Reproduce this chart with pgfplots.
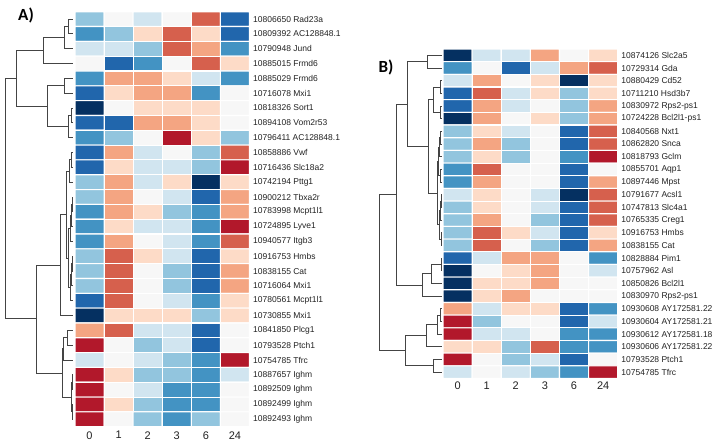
\documentclass[border=0pt]{standalone}
\usepackage{fontspec}
\setmainfont{Liberation Sans}
\newfontfamily\carlito{Carlito}
\usepackage{pgfplots}
\pgfplotsset{compat=1.18}
\definecolor{dendro}{HTML}{444444}
\definecolor{lbl}{HTML}{222222}

% colour index: 0 navy ... 5 white ... 9 dark red (RdBu)
\pgfplotsset{
  heat/.style={
    scale only axis, anchor=north west,
    axis line style={draw=none}, major tick length=0pt,
    xmin=-0.5, xmax=5.5, y dir=reverse,
    xtick={0,...,5}, xticklabels={0,1,2,3,6,24},
    yticklabel pos=right,
    /pgf/number format/assume math mode=true,
    xticklabel style={font=\fontsize{11bp}{13bp}\selectfont, text=lbl, inner sep=0pt, anchor=north},
    yticklabel style={font=\fontsize{8.5bp}{10bp}\selectfont, text=lbl, inner sep=0pt, anchor=west, xshift=3.5bp},
    colormap={rdbu}{rgb255=(5,48,97) rgb255=(33,102,172) rgb255=(67,147,195)
      rgb255=(146,197,222) rgb255=(209,229,240) rgb255=(247,247,247)
      rgb255=(253,219,199) rgb255=(244,165,130) rgb255=(214,96,77) rgb255=(178,24,43)},
    colormap access=direct,
    clip=false,
  },
  tree/.style={
    scale only axis, anchor=north west, hide axis, y dir=reverse, clip=false,
    every axis plot post/.append style={draw=dendro, solid, line width=0.9bp, mark=none},
  },
}

\begin{document}
\begin{tikzpicture}
\path[use as bounding box] (0,0) rectangle (716bp,441bp);

% ---------------- panel A ----------------
\begin{axis}[tree, at={(0bp,429.3bp)}, width=75bp, height=415bp,
  xmin=0, xmax=75, ymin=0.5, ymax=28.5]
\addplot coordinates {(72.7,1) (68.5,1) (68.5,2) (72.7,2)};
\addplot coordinates {(68.5,1.5) (64,1.5) (64,3) (72.7,3)};
\addplot coordinates {(64,2.25) (43.5,2.25) (43.5,4) (72.7,4)};
\addplot coordinates {(72.7,5) (64.5,5) (64.5,6) (72.7,6)};
\addplot coordinates {(72.7,7) (71.5,7) (71.5,8) (72.7,8)};
\addplot coordinates {(71.5,7.5) (68.5,7.5) (68.5,9) (72.7,9)};
\addplot coordinates {(64.5,5.5) (47.5,5.5) (47.5,8.25) (68.5,8.25)};
\addplot coordinates {(43.5,3.125) (16,3.125) (16,6.875) (47.5,6.875)};
\addplot coordinates {(72.7,10) (71.5,10) (71.5,11) (72.7,11)};
\addplot coordinates {(71.5,10.5) (69,10.5) (69,12) (72.7,12)};
\addplot coordinates {(72.7,13) (72,13) (72,14) (72.7,14)};
\addplot coordinates {(72,13.5) (71.5,13.5) (71.5,15) (72.7,15)};
\addplot coordinates {(71.5,14.25) (70.5,14.25) (70.5,16) (72.7,16)};
\addplot coordinates {(72.7,17) (72.2,17) (72.2,18) (72.7,18)};
\addplot coordinates {(72.2,17.5) (71.5,17.5) (71.5,19) (72.7,19)};
\addplot coordinates {(71.5,18.25) (70,18.25) (70,20) (72.7,20)};
\addplot coordinates {(70.5,15.125) (68.5,15.125) (68.5,19.125) (70,19.125)};
\addplot coordinates {(69,11.25) (66.5,11.25) (66.5,17.125) (68.5,17.125)};
\addplot coordinates {(66.5,14.19) (60,14.19) (60,21) (72.7,21)};
\addplot coordinates {(72.7,22) (67,22) (67,23) (72.7,23)};
\addplot coordinates {(67,22.5) (63.5,22.5) (63.5,24) (72.7,24)};
\addplot coordinates {(72.7,25) (72,25) (72,26) (72.7,26)};
\addplot coordinates {(72.7,27) (72,27) (72,28) (72.7,28)};
\addplot coordinates {(72,25.5) (71,25.5) (71,27.5) (72,27.5)};
\addplot coordinates {(63.5,23.25) (62,23.25) (62,26.5) (71,26.5)};
\addplot coordinates {(60,17.59) (36,17.59) (36,24.875) (62,24.875)};
\addplot coordinates {(16,5.0) (5,5.0) (5,21.23) (36,21.23)};
\end{axis}

\begin{axis}[heat, at={(75bp,429.3bp)}, width=174.5bp, height=415bp,
  ymin=0.5, ymax=28.5, ytick={1,...,28},
  xticklabel style={yshift=-4.5bp},
  yticklabels={10806650 Rad23a, 10809392 AC128848.1, 10790948 Jund, 10885015 Frmd6,
    10885029 Frmd6, 10716078 Mxi1, 10818326 Sort1, 10894108 Vom2r53,
    10796411 AC128848.1, 10858886 Vwf, 10716436 Slc18a2, 10742194 Pttg1,
    10900212 Tbxa2r, 10783998 Mcpt1l1, 10724895 Lyve1, 10940577 Itgb3,
    10916753 Hmbs, 10838155 Cat, 10716064 Mxi1, 10780561 Mcpt1l1,
    10730855 Mxi1, 10841850 Plcg1, 10793528 Ptch1, 10754785 Tfrc,
    10887657 Ighm, 10892509 Ighm, 10892499 Ighm, 10892493 Ighm}]
\addplot[matrix plot, mesh/cols=6, point meta=explicit, draw=white, line width=1.1bp]
  table[row sep=\\, meta=c] {
x y c\\
0 1 3\\ 1 1 5\\ 2 1 4\\ 3 1 5\\ 4 1 8\\ 5 1 1\\
0 2 2\\ 1 2 3\\ 2 2 6\\ 3 2 8\\ 4 2 6\\ 5 2 1\\
0 3 4\\ 1 3 4\\ 2 3 3\\ 3 3 8\\ 4 3 7\\ 5 3 2\\
0 4 5\\ 1 4 1\\ 2 4 2\\ 3 4 5\\ 4 4 8\\ 5 4 6\\
0 5 2\\ 1 5 7\\ 2 5 7\\ 3 5 6\\ 4 5 4\\ 5 5 2\\
0 6 1\\ 1 6 6\\ 2 6 7\\ 3 6 7\\ 4 6 2\\ 5 6 5\\
0 7 0\\ 1 7 5\\ 2 7 6\\ 3 7 6\\ 4 7 6\\ 5 7 5\\
0 8 1\\ 1 8 1\\ 2 8 7\\ 3 8 7\\ 4 8 6\\ 5 8 5\\
0 9 2\\ 1 9 3\\ 2 9 5\\ 3 9 9\\ 4 9 6\\ 5 9 3\\
0 10 1\\ 1 10 7\\ 2 10 4\\ 3 10 5\\ 4 10 3\\ 5 10 8\\
0 11 1\\ 1 11 6\\ 2 11 4\\ 3 11 4\\ 4 11 3\\ 5 11 9\\
0 12 3\\ 1 12 7\\ 2 12 4\\ 3 12 6\\ 4 12 0\\ 5 12 6\\
0 13 3\\ 1 13 7\\ 2 13 5\\ 3 13 4\\ 4 13 1\\ 5 13 7\\
0 14 2\\ 1 14 7\\ 2 14 6\\ 3 14 3\\ 4 14 2\\ 5 14 7\\
0 15 2\\ 1 15 6\\ 2 15 4\\ 3 15 4\\ 4 15 2\\ 5 15 9\\
0 16 2\\ 1 16 7\\ 2 16 5\\ 3 16 4\\ 4 16 2\\ 5 16 8\\
0 17 3\\ 1 17 8\\ 2 17 6\\ 3 17 4\\ 4 17 1\\ 5 17 6\\
0 18 3\\ 1 18 8\\ 2 18 5\\ 3 18 3\\ 4 18 1\\ 5 18 7\\
0 19 3\\ 1 19 8\\ 2 19 5\\ 3 19 3\\ 4 19 1\\ 5 19 7\\
0 20 1\\ 1 20 8\\ 2 20 5\\ 3 20 4\\ 4 20 2\\ 5 20 6\\
0 21 0\\ 1 21 6\\ 2 21 6\\ 3 21 6\\ 4 21 3\\ 5 21 6\\
0 22 7\\ 1 22 8\\ 2 22 4\\ 3 22 4\\ 4 22 1\\ 5 22 5\\
0 23 9\\ 1 23 5\\ 2 23 3\\ 3 23 4\\ 4 23 1\\ 5 23 5\\
0 24 4\\ 1 24 5\\ 2 24 4\\ 3 24 3\\ 4 24 2\\ 5 24 9\\
0 25 9\\ 1 25 6\\ 2 25 3\\ 3 25 3\\ 4 25 2\\ 5 25 4\\
0 26 9\\ 1 26 5\\ 2 26 4\\ 3 26 2\\ 4 26 2\\ 5 26 5\\
0 27 9\\ 1 27 6\\ 2 27 3\\ 3 27 2\\ 4 27 2\\ 5 27 5\\
0 28 9\\ 1 28 5\\ 2 28 3\\ 3 28 2\\ 4 28 3\\ 5 28 5\\
};
\end{axis}

% ---------------- panel B ----------------
\begin{axis}[tree, at={(370bp,392bp)}, width=73bp, height=329.5bp,
  xmin=370, xmax=443, ymin=0.5, ymax=26.5]
\addplot coordinates {(441.7,1) (427,1) (427,2) (441.7,2)};
\addplot coordinates {(441.7,3) (440,3) (440,4) (441.7,4)};
\addplot coordinates {(441.7,5) (440,5) (440,6) (441.7,6)};
\addplot coordinates {(440,3.5) (433,3.5) (433,5.5) (440,5.5)};
\addplot coordinates {(441.7,7) (440.5,7) (440.5,8) (441.7,8)};
\addplot coordinates {(440.5,7.5) (439.5,7.5) (439.5,9) (441.7,9)};
\addplot coordinates {(441.7,10) (440.5,10) (440.5,11) (441.7,11)};
\addplot coordinates {(439.5,8.25) (438,8.25) (438,10.5) (440.5,10.5)};
\addplot coordinates {(441.7,12) (441,12) (441,13) (441.7,13)};
\addplot coordinates {(441,12.5) (440.5,12.5) (440.5,14) (441.7,14)};
\addplot coordinates {(441.7,15) (441,15) (441,16) (441.7,16)};
\addplot coordinates {(440.5,13.25) (439.5,13.25) (439.5,15.5) (441,15.5)};
\addplot coordinates {(438,9.375) (437,9.375) (437,14.375) (439.5,14.375)};
\addplot coordinates {(433,4.5) (428,4.5) (428,11.875) (437,11.875)};
\addplot coordinates {(427,1.5) (407,1.5) (407,8.1875) (428,8.1875)};
\addplot coordinates {(441.7,17) (441,17) (441,18) (441.7,18)};
\addplot coordinates {(441,17.5) (431.7,17.5) (431.7,19) (441.7,19)};
\addplot coordinates {(431.7,18.25) (422,18.25) (422,20) (441.7,20)};
\addplot coordinates {(407,4.84) (396,4.84) (396,19.125) (422,19.125)};
\addplot coordinates {(441.7,21) (440,21) (440,22) (441.7,22)};
\addplot coordinates {(440,21.5) (437.5,21.5) (437.5,23) (441.7,23)};
\addplot coordinates {(437.5,22.25) (426,22.25) (426,24) (441.7,24)};
\addplot coordinates {(441.7,25) (433,25) (433,26) (441.7,26)};
\addplot coordinates {(426,23.125) (405,23.125) (405,25.5) (433,25.5)};
\addplot coordinates {(396,11.98) (379,11.98) (379,24.31) (405,24.31)};
\end{axis}

\begin{axis}[heat, at={(443bp,392bp)}, width=174.7bp, height=329.5bp,
  ymin=0.5, ymax=26.5, ytick={1,...,26},
  xticklabel style={yshift=-3.5bp},
  yticklabels={10874126 Slc2a5, 10729314 Gda, 10880429 Cd52, 10711210 Hsd3b7,
    10830972 Rps2-ps1, 10724228 Bcl2l1-ps1, 10840568 Nxt1, 10862820 Snca,
    10818793 Gclm, 10855701 Aqp1, 10897446 Mpst, 10791677 Acsl1,
    10747813 Slc4a1, 10765335 Creg1, 10916753 Hmbs, 10838155 Cat,
    10828884 Pim1, 10757962 Asl, 10850826 Bcl2l1, 10830970 Rps2-ps1,
    10930608 AY172581.22, 10930604 AY172581.21, 10930612 AY172581.18,
    10930606 AY172581.22, 10793528 Ptch1, 10754785 Tfrc}]
\addplot[matrix plot, mesh/cols=6, point meta=explicit, draw=white, line width=1.1bp]
  table[row sep=\\, meta=c] {
x y c\\
0 1 0\\ 1 1 4\\ 2 1 4\\ 3 1 7\\ 4 1 5\\ 5 1 6\\
0 2 2\\ 1 2 5\\ 2 2 1\\ 3 2 4\\ 4 2 7\\ 5 2 8\\
0 3 4\\ 1 3 7\\ 2 3 5\\ 3 3 6\\ 4 3 0\\ 5 3 6\\
0 4 1\\ 1 4 8\\ 2 4 4\\ 3 4 6\\ 4 4 3\\ 5 4 6\\
0 5 1\\ 1 5 7\\ 2 5 4\\ 3 5 5\\ 4 5 3\\ 5 5 7\\
0 6 0\\ 1 6 7\\ 2 6 5\\ 3 6 6\\ 4 6 3\\ 5 6 7\\
0 7 3\\ 1 7 6\\ 2 7 4\\ 3 7 5\\ 4 7 1\\ 5 7 8\\
0 8 3\\ 1 8 7\\ 2 8 3\\ 3 8 5\\ 4 8 1\\ 5 8 8\\
0 9 3\\ 1 9 6\\ 2 9 3\\ 3 9 5\\ 4 9 2\\ 5 9 9\\
0 10 2\\ 1 10 8\\ 2 10 5\\ 3 10 5\\ 4 10 1\\ 5 10 5\\
0 11 2\\ 1 11 7\\ 2 11 5\\ 3 11 5\\ 4 11 1\\ 5 11 7\\
0 12 4\\ 1 12 6\\ 2 12 5\\ 3 12 4\\ 4 12 0\\ 5 12 8\\
0 13 3\\ 1 13 6\\ 2 13 5\\ 3 13 4\\ 4 13 1\\ 5 13 8\\
0 14 3\\ 1 14 7\\ 2 14 5\\ 3 14 3\\ 4 14 1\\ 5 14 8\\
0 15 3\\ 1 15 8\\ 2 15 6\\ 3 15 4\\ 4 15 1\\ 5 15 6\\
0 16 3\\ 1 16 8\\ 2 16 5\\ 3 16 3\\ 4 16 1\\ 5 16 7\\
0 17 1\\ 1 17 4\\ 2 17 7\\ 3 17 7\\ 4 17 5\\ 5 17 2\\
0 18 0\\ 1 18 5\\ 2 18 6\\ 3 18 7\\ 4 18 5\\ 5 18 4\\
0 19 0\\ 1 19 6\\ 2 19 6\\ 3 19 7\\ 4 19 5\\ 5 19 5\\
0 20 0\\ 1 20 6\\ 2 20 7\\ 3 20 5\\ 4 20 5\\ 5 20 5\\
0 21 7\\ 1 21 4\\ 2 21 6\\ 3 21 6\\ 4 21 1\\ 5 21 2\\
0 22 9\\ 1 22 3\\ 2 22 5\\ 3 22 5\\ 4 22 1\\ 5 22 4\\
0 23 9\\ 1 23 4\\ 2 23 4\\ 3 23 5\\ 4 23 2\\ 5 23 2\\
0 24 6\\ 1 24 6\\ 2 24 3\\ 3 24 8\\ 4 24 2\\ 5 24 2\\
0 25 9\\ 1 25 5\\ 2 25 3\\ 3 25 4\\ 4 25 1\\ 5 25 5\\
0 26 4\\ 1 26 5\\ 2 26 4\\ 3 26 3\\ 4 26 2\\ 5 26 9\\
};
\end{axis}

\node[font=\carlito\bfseries\fontsize{17bp}{17bp}\selectfont, text=black] at (26bp,426bp) {A)};
\node[font=\carlito\bfseries\fontsize{17bp}{17bp}\selectfont, text=black] at (386bp,374bp) {B)};
\end{tikzpicture}
\end{document}
